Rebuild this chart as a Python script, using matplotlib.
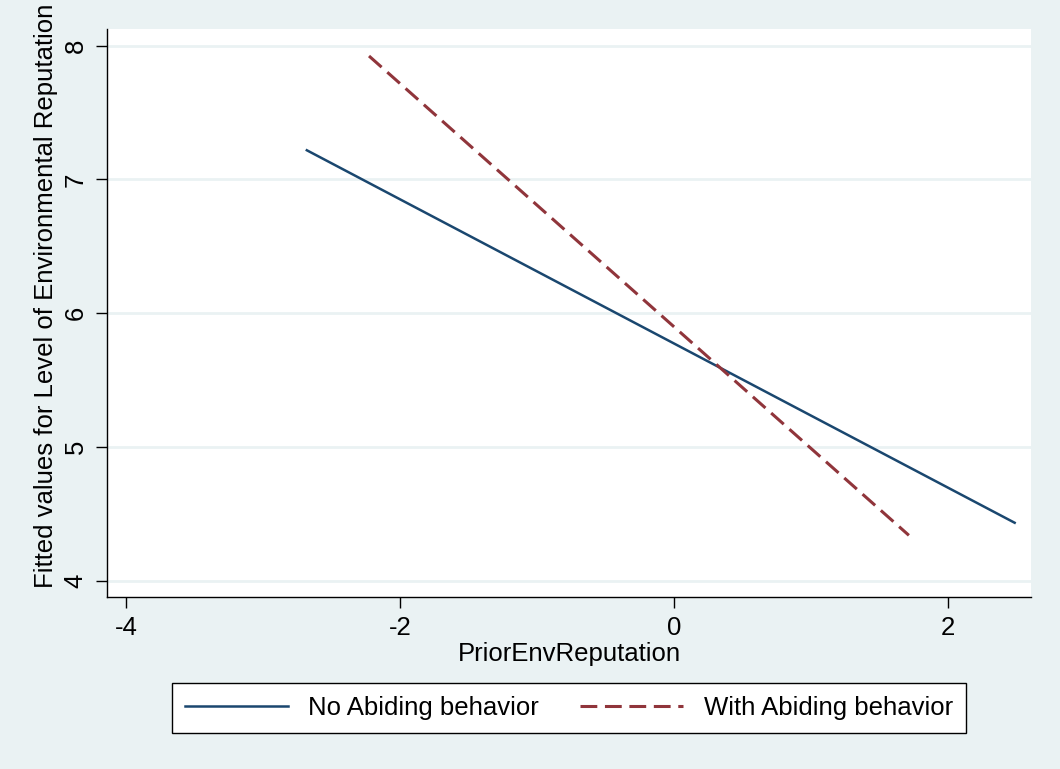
import numpy as np
import matplotlib
matplotlib.use('Agg')
import matplotlib.pyplot as plt

plt.rcParams['font.family'] = ['Liberation Sans', 'DejaVu Sans']

# fitted lines (endpoints)
x_no = [-2.68, 2.487]
y_no = [7.218, 4.432]
x_with = [-2.226, 1.715]
y_with = [7.923, 4.338]

labels = ['No Abiding behavior', 'With Abiding behavior']
xticks = [-4, -2, 0, 2]
yticks = [4, 5, 6, 7, 8]

bg = '#EAF2F3'
navy = '#1A476F'
maroon = '#90353B'

fig = plt.figure(figsize=(10.6, 7.69), dpi=100)
fig.patch.set_facecolor(bg)
ax = fig.add_axes([0.1009, 0.2237, 0.8717, 0.7386])
ax.set_facecolor('white')

ax.plot(x_no, y_no, color=navy, lw=1.8, label=labels[0])
ax.plot(x_with, y_with, color=maroon, lw=2.2, ls=(0, (5.5, 2.5)), label=labels[1])

ax.set_xlim(-4.139, 2.606)
ax.set_ylim(3.877, 8.125)
ax.set_xticks(xticks)
ax.set_yticks(yticks)
ax.set_xticklabels([str(t) for t in xticks], fontsize=18.5)
ax.set_yticklabels([str(t) for t in yticks], fontsize=18.5, rotation=90, va='center')
for t in yticks:
    ax.axhline(t, color=bg, lw=2, zorder=0)

for s in ['top', 'right']:
    ax.spines[s].set_visible(False)
for s in ['left', 'bottom']:
    ax.spines[s].set_color('black')
    ax.spines[s].set_linewidth(1)
ax.tick_params(length=8, width=1, color='black', pad=6)

ax.set_xlabel('PriorEnvReputation', fontsize=18.5, labelpad=1)
ax.set_ylabel('Fitted values for Level of Environmental Reputation', fontsize=18.5)
ax.yaxis.set_label_coords(-0.053, 0.53)

leg = ax.legend(loc='center', bbox_to_anchor=(0.5, -0.195), ncol=2, fontsize=18.5,
                frameon=True, fancybox=False, edgecolor='black', framealpha=1,
                handlelength=4, columnspacing=1.6, borderpad=0.5)
leg.get_frame().set_linewidth(1)

fig.savefig('out.png', dpi=100, facecolor=bg)
